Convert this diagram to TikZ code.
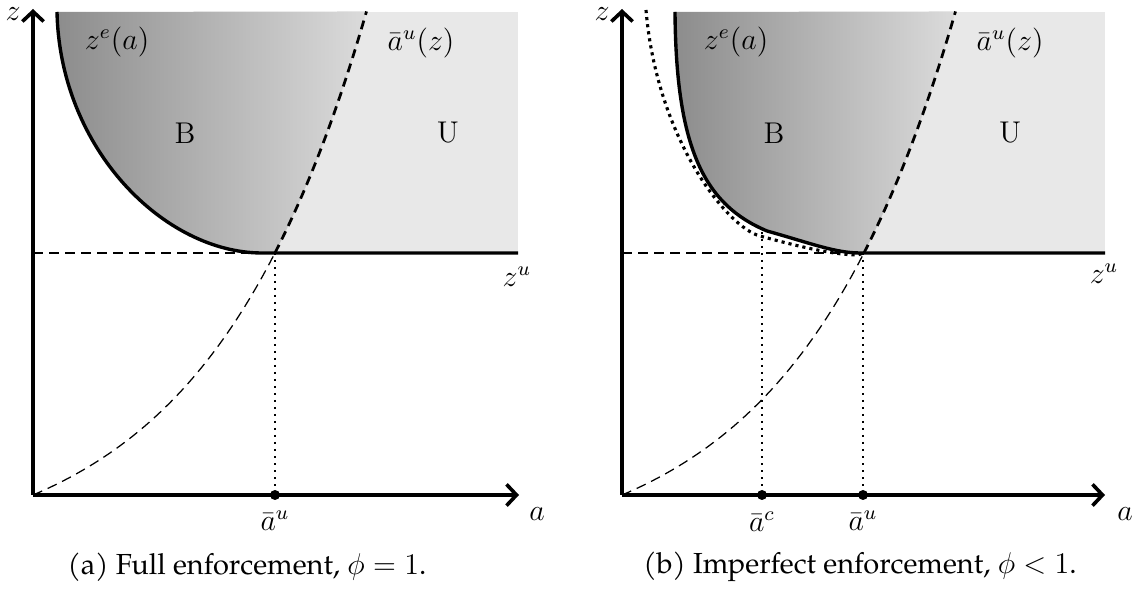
\documentclass[tikz,border=0pt]{standalone}
\usepackage{fontspec}
\usetikzlibrary{arrows.meta}
\newfontfamily\capfont{texgyrepagella-regular.otf}
\begin{document}
\begin{tikzpicture}[x=0.4pt,y=-0.4pt,
  every node/.style={font=\fontsize{12}{14}\selectfont, inner sep=0pt},
  axis/.style={line width=1.45pt, -{Straight Barb[length=4pt,width=8.5pt]}},
  curve/.style={line width=1.35pt},
  thindash/.style={line width=0.5pt, dash pattern=on 4pt off 2.4pt},
  thickdash/.style={line width=1.1pt, dash pattern=on 3.6pt off 2.4pt},
  vdot/.style={line width=0.7pt, dash pattern=on 0.7pt off 2.1pt},
  refdot/.style={line width=1.25pt, dash pattern=on 1.25pt off 1.6pt},
  ufill/.style={fill=black!9},
  bshade/.style={left color=black!45, right color=black!14},
  capt/.style={font=\fontsize{11.6}{14}\selectfont\capfont}
]
\useasboundingbox (0,0) rectangle (1137,590);

% ---------------- panel (a) ----------------
\coordinate (Oa) at (33,495);
\coordinate (Ya) at (33,9);
\coordinate (Xa) at (519,495);
\coordinate (Pa) at (275,253);
\coordinate (La) at (33,253);
\coordinate (Ra) at (518,253);
\coordinate (Ta) at (275,495);

\fill[ufill] (275,12) rectangle (518,253);
\shade[bshade] (57,12) -- plot[domain=333.5:242, samples=30] ({33+\x},{495-67.35*(exp(0.0063*\x)-1)})
  -- (262,253) .. controls (165,253) and (60,150) .. (57,12) -- cycle;

\draw[thindash] (La) -- (Pa);
\draw[thindash] plot[domain=0:242, samples=40] ({33+\x},{495-67.35*(exp(0.0063*\x)-1)});
\draw[thickdash] plot[domain=242:333.5, samples=20] ({33+\x},{495-67.35*(exp(0.0063*\x)-1)});
\draw[curve] (57,12) .. controls (60,150) and (165,253) .. (262,253) -- (Pa) -- (Ra);
\draw[vdot] (Pa) -- (Ta);
\fill (Ta) circle (5);
\draw[axis] (Oa) -- (Ya);
\draw[axis] (Oa) -- (Xa);

\node (za) at (13,14) {$z$};
\node (aa) at (537,514) {$a$};
\node (aua) at (275,521) {$\bar a^u$};
\node (zua) at (517,277) {$z^u$};
\node (zea) at (117,42) {$z^e(a)$};
\node (auza) at (421,43) {$\bar a^u(z)$};
\node (Ba) at (185,133) {B};
\node (Ua) at (448,133) {U};
\node[capt] (capa) at (247,567) {(a) Full enforcement, $\phi=1$.};

% ---------------- panel (b) ----------------
\coordinate (Ob) at (622,495);
\coordinate (Yb) at (622,9);
\coordinate (Xb) at (1105,495);
\coordinate (Pb) at (863,253);
\coordinate (Lb) at (622,253);
\coordinate (Rb) at (1105,253);
\coordinate (Kb) at (762,232);
\coordinate (Tcb) at (762,495);
\coordinate (Tb) at (863,495);

\fill[ufill] (863,12) rectangle (1105,253);
\shade[bshade] (675,12) -- plot[domain=333.5:242, samples=30] ({622+\x},{495-67.35*(exp(0.0063*\x)-1)})
  -- (860,253) .. controls (835,253) and (810,243) .. (767,231)
  .. controls (705,205) and (676,150) .. (675,12) -- cycle;

\draw[thindash] (Lb) -- (Pb);
\draw[thindash] plot[domain=0:242, samples=40] ({622+\x},{495-67.35*(exp(0.0063*\x)-1)});
\draw[thickdash] plot[domain=242:333.5, samples=20] ({622+\x},{495-67.35*(exp(0.0063*\x)-1)});
\draw[refdot] (646,10) .. controls (657,140) and (728,228) .. (760,236)
  .. controls (800,247) and (835,255) .. (858,255) -- (Pb);
\draw[curve] (675,12) .. controls (676,150) and (705,205) .. (767,231)
  .. controls (810,243) and (835,253) .. (860,253) -- (Pb) -- (Rb);
\draw[vdot] (Kb) -- (Tcb);
\draw[vdot] (Pb) -- (Tb);
\fill (Tcb) circle (5);
\fill (Tb) circle (5);
\draw[axis] (Ob) -- (Yb);
\draw[axis] (Ob) -- (Xb);

\node (zb) at (602,14) {$z$};
\node (ab) at (1125,514) {$a$};
\node (acb) at (762,522) {$\bar a^c$};
\node (aub) at (863,521) {$\bar a^u$};
\node (zub) at (1104,274) {$z^u$};
\node (zeb) at (736,42) {$z^e(a)$};
\node (auzb) at (1010,43) {$\bar a^u(z)$};
\node (Bb) at (774,133) {B};
\node (Ub) at (1010,133) {U};
\node[capt] (capb) at (860,567) {(b) Imperfect enforcement, $\phi<1$.};
\end{tikzpicture}
\end{document}
